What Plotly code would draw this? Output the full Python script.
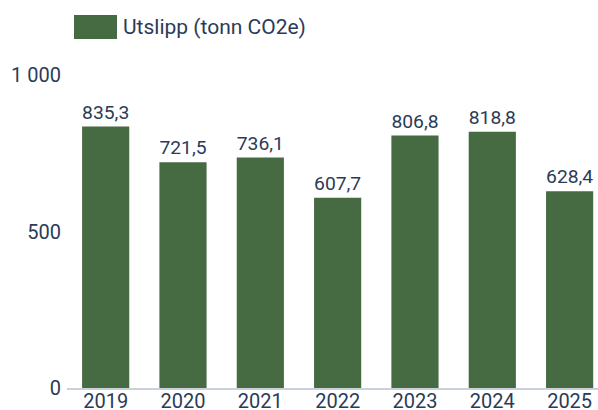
import plotly.graph_objects as go

years = ["2019", "2020", "2021", "2022", "2023", "2024", "2025"]
emissions = [835.3, 721.5, 736.1, 607.7, 806.8, 818.8, 628.4]
series_name = "Utslipp (tonn CO2e)"
y_tick_values = [0, 500, 1000]
y_tick_labels = ["0", "500", "1 000"]

BAR_COLOR = "#466a42"
TEXT_COLOR = "#2b3b57"
FONT = "Roboto, Arial, sans-serif"
FONT_SIZE = 20

fig = go.Figure(
    go.Bar(
        x=years,
        y=emissions,
        name=series_name,
        marker=dict(color=BAR_COLOR, line=dict(width=0)),
        texttemplate="%{y:.1f}",
        textposition="outside",
        textfont=dict(family=FONT, size=FONT_SIZE, color=TEXT_COLOR),
        cliponaxis=False,
        showlegend=False,
    )
)

# Legend drawn as a swatch plus label above the plot
fig.add_shape(
    type="rect", xref="paper", yref="paper",
    x0=(74 - 67) / 531, x1=(117 - 67) / 531,
    y0=(388 - 39) / 313, y1=(388 - 15) / 313,
    fillcolor=BAR_COLOR, line=dict(width=0),
)
fig.add_annotation(
    xref="paper", yref="paper",
    x=(121 - 67) / 531, y=(388 - 27) / 313,
    xanchor="left", yanchor="middle",
    text=series_name, showarrow=False,
    font=dict(family=FONT, size=21, color=TEXT_COLOR),
)

fig.update_layout(
    width=598, height=410,
    margin=dict(l=67, r=0, t=75, b=22, autoexpand=False),
    paper_bgcolor="white", plot_bgcolor="white",
    separators=", ",
    bargap=0.39,
    font=dict(family=FONT, size=FONT_SIZE, color=TEXT_COLOR),
    xaxis=dict(
        type="category",
        range=[-0.5, 6.367],
        automargin=False,
        showline=True, linecolor="#c9d1da", linewidth=2,
        showgrid=False, ticks="",
        ticklabelstandoff=-6,
        tickfont=dict(family=FONT, size=FONT_SIZE, color=TEXT_COLOR),
    ),
    yaxis=dict(
        range=[0, 1000],
        automargin=False,
        tickvals=y_tick_values, ticktext=y_tick_labels,
        showgrid=False, zeroline=False, showline=False, ticks="",
        ticklabelstandoff=5,
        tickfont=dict(family=FONT, size=FONT_SIZE, color=TEXT_COLOR),
    ),
)

fig.write_html("out.html")
